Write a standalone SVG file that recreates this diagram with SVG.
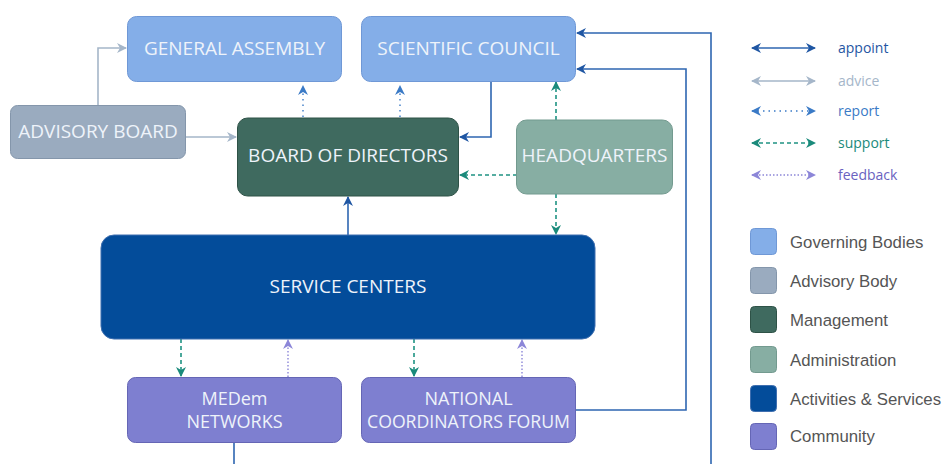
<svg xmlns="http://www.w3.org/2000/svg" width="943" height="464" viewBox="0 0 943 464">
<defs>
<style>
.node text{font-family:"Open Sans","DejaVu Sans",sans-serif;font-size:19px;fill:#eef3fa;text-anchor:middle}
.node text.sm{font-size:18px}
.gov{fill:#84aee8;stroke:#6f98d6;stroke-width:1}
.adv{fill:#9aabbf;stroke:#8496ab;stroke-width:1}
.mgmt{fill:#3f6a5f;stroke:#2e5247;stroke-width:1}
.admin{fill:#87aea3;stroke:#739a8f;stroke-width:1}
.act{fill:#034c9a;stroke:#3f6fb0;stroke-width:1}
.com{fill:#7e7fd0;stroke:#6566b5;stroke-width:1}
.c{fill:none}
.appoint{stroke:#2e66b1;stroke-width:1.6}
.advice{stroke:#a5b6c9;stroke-width:1.6}
.report{stroke:#3a7ac6;stroke-width:1.4;stroke-dasharray:1.5 4}
.support{stroke:#1f9383;stroke-width:1.6;stroke-dasharray:4 3}
.feedback{stroke:#8c86d8;stroke-width:1.4;stroke-dasharray:1.5 2}
.lt{font-family:"Open Sans","DejaVu Sans",sans-serif;font-size:14px}
.sw text{font-family:"Liberation Sans",Arial,sans-serif;font-size:16.8px;fill:#555}
</style>
<marker id="mA" viewBox="0 0 10 10" refX="9" refY="5" markerWidth="10" markerHeight="10" markerUnits="userSpaceOnUse" orient="auto-start-reverse"><path d="M0,0 L10,5 L0,10 L3,5 z" fill="#1f56a3"/></marker>
<marker id="mV" viewBox="0 0 10 10" refX="9" refY="5" markerWidth="10" markerHeight="10" markerUnits="userSpaceOnUse" orient="auto-start-reverse"><path d="M0,0 L10,5 L0,10 L3,5 z" fill="#a5b6c9"/></marker>
<marker id="mR" viewBox="0 0 10 10" refX="9" refY="5" markerWidth="10" markerHeight="10" markerUnits="userSpaceOnUse" orient="auto-start-reverse"><path d="M0,0 L10,5 L0,10 L3,5 z" fill="#3a7ac6"/></marker>
<marker id="mS" viewBox="0 0 10 10" refX="9" refY="5" markerWidth="10" markerHeight="10" markerUnits="userSpaceOnUse" orient="auto-start-reverse"><path d="M0,0 L10,5 L0,10 L3,5 z" fill="#1a8a7b"/></marker>
<marker id="mF" viewBox="0 0 10 10" refX="9" refY="5" markerWidth="10" markerHeight="10" markerUnits="userSpaceOnUse" orient="auto-start-reverse"><path d="M0,0 L10,5 L0,10 L3,5 z" fill="#8c86d8"/></marker>
</defs>
<rect width="943" height="464" fill="#ffffff"/>

<g id="connectors">
<path class="c advice" d="M98,105 V48 H126" marker-end="url(#mV)"/>
<path class="c advice" d="M185,137 H236" marker-end="url(#mV)"/>
<path class="c report" d="M303,117 V86" marker-end="url(#mR)"/>
<path class="c report" d="M400,117 V86" marker-end="url(#mR)"/>
<path class="c appoint" d="M491,81 V137 H460" marker-end="url(#mA)"/>
<path class="c support" d="M556,120 V82" marker-end="url(#mS)"/>
<path class="c support" d="M517,175 H460" marker-end="url(#mS)"/>
<path class="c support" d="M556,194 V234" marker-end="url(#mS)"/>
<path class="c appoint" d="M348,235 V197" marker-end="url(#mA)"/>
<path class="c support" d="M181,339 V376" marker-end="url(#mS)"/>
<path class="c feedback" d="M288,377 V340" marker-end="url(#mF)"/>
<path class="c support" d="M414,339 V376" marker-end="url(#mS)"/>
<path class="c feedback" d="M522,377 V340" marker-end="url(#mF)"/>
<path class="c appoint" d="M576,410 H686 V69 H577" marker-end="url(#mA)"/>
<path class="c appoint" d="M234,443 V490 H711 V33 H577" marker-end="url(#mA)"/>
</g>

<g id="general-assembly" class="node"><rect class="gov" x="127.5" y="16.5" width="214" height="65" rx="9"/><text x="234.5" y="55">GENERAL ASSEMBLY</text></g>
<g id="scientific-council" class="node"><rect class="gov" x="361.5" y="16.5" width="214" height="65" rx="9"/><text x="468.5" y="55">SCIENTIFIC COUNCIL</text></g>
<g id="advisory-board" class="node"><rect class="adv" x="10.5" y="105.5" width="175" height="53" rx="7"/><text x="98" y="137.5">ADVISORY BOARD</text></g>
<g id="board-of-directors" class="node"><rect class="mgmt" x="237.5" y="118" width="221" height="78" rx="10"/><text x="348" y="162">BOARD OF DIRECTORS</text></g>
<g id="headquarters" class="node"><rect class="admin" x="516.5" y="120" width="156" height="74" rx="10"/><text x="594.5" y="162">HEADQUARTERS</text></g>
<g id="service-centers" class="node"><rect class="act" x="101" y="235" width="494" height="104" rx="13"/><text x="348" y="293">SERVICE CENTERS</text></g>
<g id="medem-networks" class="node"><rect class="com" x="127.5" y="377.5" width="214" height="65" rx="8"/><text class="sm" x="234.5" y="404.5">MEDem</text><text class="sm" x="234.5" y="427.5">NETWORKS</text></g>
<g id="national-coordinators-forum" class="node"><rect class="com" x="361.5" y="377.5" width="214" height="65" rx="8"/><text class="sm" x="468.5" y="404.5">NATIONAL</text><text class="sm" x="468.5" y="427.5" textLength="203" lengthAdjust="spacingAndGlyphs">COORDINATORS FORUM</text></g>

<g id="legend-lines">
<path class="c appoint" d="M752,48 H815" stroke="#1f56a3" stroke-width="2.2" marker-start="url(#mA)" marker-end="url(#mA)"/>
<text class="lt" x="838" y="53" fill="#1f56a3">appoint</text>
<path class="c advice" d="M752,81 H815" marker-start="url(#mV)" marker-end="url(#mV)"/>
<text class="lt" x="838" y="86" fill="#a5b6c9">advice</text>
<path class="c report" d="M752,111 H815" marker-start="url(#mR)" marker-end="url(#mR)"/>
<text class="lt" x="838" y="116" fill="#3a7ac6">report</text>
<path class="c support" d="M752,143 H815" marker-start="url(#mS)" marker-end="url(#mS)"/>
<text class="lt" x="838" y="148" fill="#1a8a7b">support</text>
<path class="c feedback" d="M752,175 H815" marker-start="url(#mF)" marker-end="url(#mF)"/>
<text class="lt" x="838" y="180" fill="#6a62bf">feedback</text>
</g>

<g id="legend-swatches" class="sw">
<rect class="gov" x="750.5" y="228.5" width="26" height="26" rx="4"/><text x="790" y="247.5">Governing Bodies</text>
<rect class="adv" x="750.5" y="267.5" width="26" height="26" rx="4"/><text x="790" y="286.5">Advisory Body</text>
<rect class="mgmt" x="750.5" y="306.5" width="26" height="26" rx="4"/><text x="790" y="325.5">Management</text>
<rect class="admin" x="750.5" y="346.5" width="26" height="26" rx="4"/><text x="790" y="365.5">Administration</text>
<rect class="act" x="750.5" y="385.5" width="26" height="26" rx="4"/><text x="790" y="404.5">Activities &amp; Services</text>
<rect class="com" x="750.5" y="423.5" width="26" height="26" rx="4"/><text x="790" y="441.5">Community</text>
</g>
</svg>
